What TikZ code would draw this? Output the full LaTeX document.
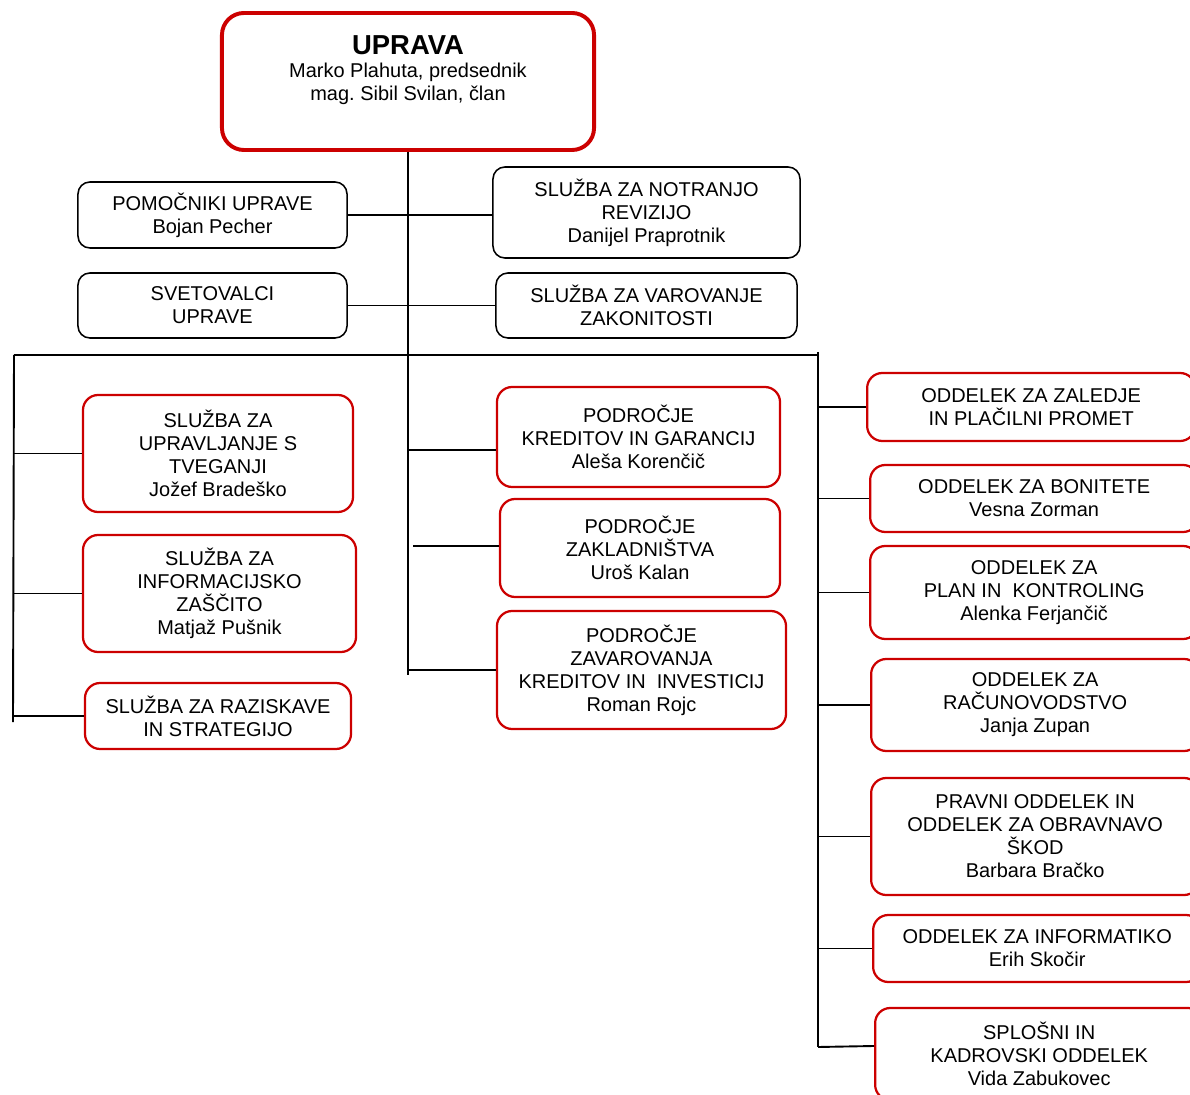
\documentclass[tikz,border=0pt]{standalone}
\usepackage{fontspec}
\setmainfont{Liberation Sans}
\frenchspacing
\definecolor{boxred}{RGB}{204,0,0}
\tikzset{
  orgtext/.style={font=\fontsize{14.2}{16.4}\selectfont, align=center, inner sep=2pt},
  blackbox/.style={orgtext, draw=black, line width=1.1pt, rounded corners=0.3cm},
  redbox/.style={orgtext, draw=boxred, line width=1.6pt, rounded corners=0.38cm},
  headbox/.style={orgtext, draw=boxred, line width=2.8pt, rounded corners=0.55cm},
  rightbox/.style={redbox, anchor=west, minimum width=8.2cm},
  link/.style={line width=1.35pt},
}

\begin{document}
\begin{tikzpicture}[x=0.025cm, y=-0.025cm]
\useasboundingbox (0,0) rectangle (1190,1095);
\clip (0,0) rectangle (1190,1095);

% uprava in staff
\node[headbox, minimum width=9.3cm, minimum height=3.425cm] (uprava) at (408,81.5)
  {{\fontsize{19.5}{21}\selectfont\bfseries UPRAVA}\\Marko Plahuta, predsednik\\mag. Sibil Svilan, član\\[0.08cm]~};
\node[blackbox, minimum width=6.725cm, minimum height=1.65cm] (pomocniki) at (212.5,215)
  {POMOČNIKI UPRAVE\\Bojan Pecher};
\node[blackbox, minimum width=7.675cm, minimum height=2.275cm] (revizija) at (646.5,212.5)
  {SLUŽBA ZA NOTRANJO\\REVIZIJO\\Danijel Praprotnik};
\node[blackbox, minimum width=6.725cm, minimum height=1.625cm] (svetovalci) at (212.5,305.5)
  {SVETOVALCI\\UPRAVE};
\node[blackbox, minimum width=7.525cm, minimum height=1.625cm] (zakonitost) at (646.5,305.5)
  {SLUŽBA ZA VAROVANJE\\ZAKONITOSTI};

% sluzbe
\node[redbox, minimum width=6.75cm, minimum height=2.925cm] (tveganja) at (218,453.5)
  {SLUŽBA ZA\\UPRAVLJANJE S\\TVEGANJI\\Jožef Bradeško};
\node[redbox, minimum width=6.825cm, minimum height=2.925cm] (zascita) at (219.5,593.5)
  {SLUŽBA ZA\\INFORMACIJSKO\\ZAŠČITO\\Matjaž Pušnik};
\node[redbox, minimum width=6.65cm, minimum height=1.65cm] (raziskave) at (218,716)
  {SLUŽBA ZA RAZISKAVE\\IN STRATEGIJO};

% podrocja
\node[redbox, minimum width=7.075cm, minimum height=2.5cm] (krediti) at (638.5,437)
  {PODROČJE\\KREDITOV IN GARANCIJ\\Aleša Korenčič};
\node[redbox, minimum width=7cm, minimum height=2.45cm] (zakladnistvo) at (640,548)
  {PODROČJE\\ZAKLADNIŠTVA\\Uroš Kalan};
\node[redbox, minimum width=7.225cm, minimum height=2.95cm] (zavarovanje) at (641.5,670)
  {PODROČJE\\ZAVAROVANJA\\KREDITOV IN~~INVESTICIJ\\Roman Rojc};

% oddelki
\node[rightbox, minimum height=1.7cm] (zaledje) at (866,407)
  {ODDELEK ZA ZALEDJE\\IN PLAČILNI PROMET};
\node[rightbox, minimum height=1.675cm] (bonitete) at (869,498.5)
  {ODDELEK ZA BONITETE\\Vesna Zorman};
\node[rightbox, minimum height=2.325cm] (kontroling) at (869,592.5)
  {ODDELEK ZA\\PLAN IN~~KONTROLING\\Alenka Ferjančič};
\node[rightbox, minimum height=2.3cm] (racunovodstvo) at (870,705)
  {ODDELEK ZA\\RAČUNOVODSTVO\\Janja Zupan};
\node[rightbox, minimum height=2.925cm] (pravno) at (870,836.5)
  {PRAVNI ODDELEK IN\\ODDELEK ZA OBRAVNAVO\\ŠKOD\\Barbara Bračko};
\node[rightbox, minimum height=1.675cm] (informatika) at (872,948.5)
  {ODDELEK ZA INFORMATIKO\\Erih Skočir};
\node[rightbox, minimum height=2.3cm] (splosno) at (874,1054)
  {SPLOŠNI IN\\KADROVSKI ODDELEK\\Vida Zabukovec};

\coordinate (trunkbot) at (408,675);
\coordinate (lefttop) at (14,355);
\coordinate (leftbot) at (13,722);
\coordinate (righttop) at (818,352);
\coordinate (rightbot) at (818,1047);
\coordinate (kreditipin) at ([yshift=-0.325cm]krediti.west);
\coordinate (zakladpin) at (413,546);
\coordinate (splosnopin) at ([yshift=0.2cm]splosno.west);

% povezave
\draw[link] (uprava.south) -- (trunkbot);
\draw[link] (pomocniki.east) -- (pomocniki.east -| revizija.west);
\draw[link] (svetovalci.east) -- (svetovalci.east -| zakonitost.west);
\draw[link] (lefttop) -- (lefttop -| righttop);
\draw[link] (lefttop) -- (leftbot);
\draw[link] (righttop) -- (rightbot);

\draw[link] (leftbot |- tveganja.west) -- (tveganja.west);
\draw[link] (leftbot |- zascita.west) -- (zascita.west);
\draw[link] (leftbot |- raziskave.west) -- (raziskave.west);

\draw[link] (trunkbot |- kreditipin) -- (kreditipin);
\draw[link] (zakladpin) -- (zakladpin -| zakladnistvo.west);
\draw[link] (trunkbot |- zavarovanje.west) -- (zavarovanje.west);

\foreach \unit in {zaledje,bonitete,kontroling,racunovodstvo,pravno,informatika}
  \draw[link] (rightbot |- \unit.west) -- (\unit.west);
\draw[link] (rightbot) -- (splosnopin);
\end{tikzpicture}
\end{document}
